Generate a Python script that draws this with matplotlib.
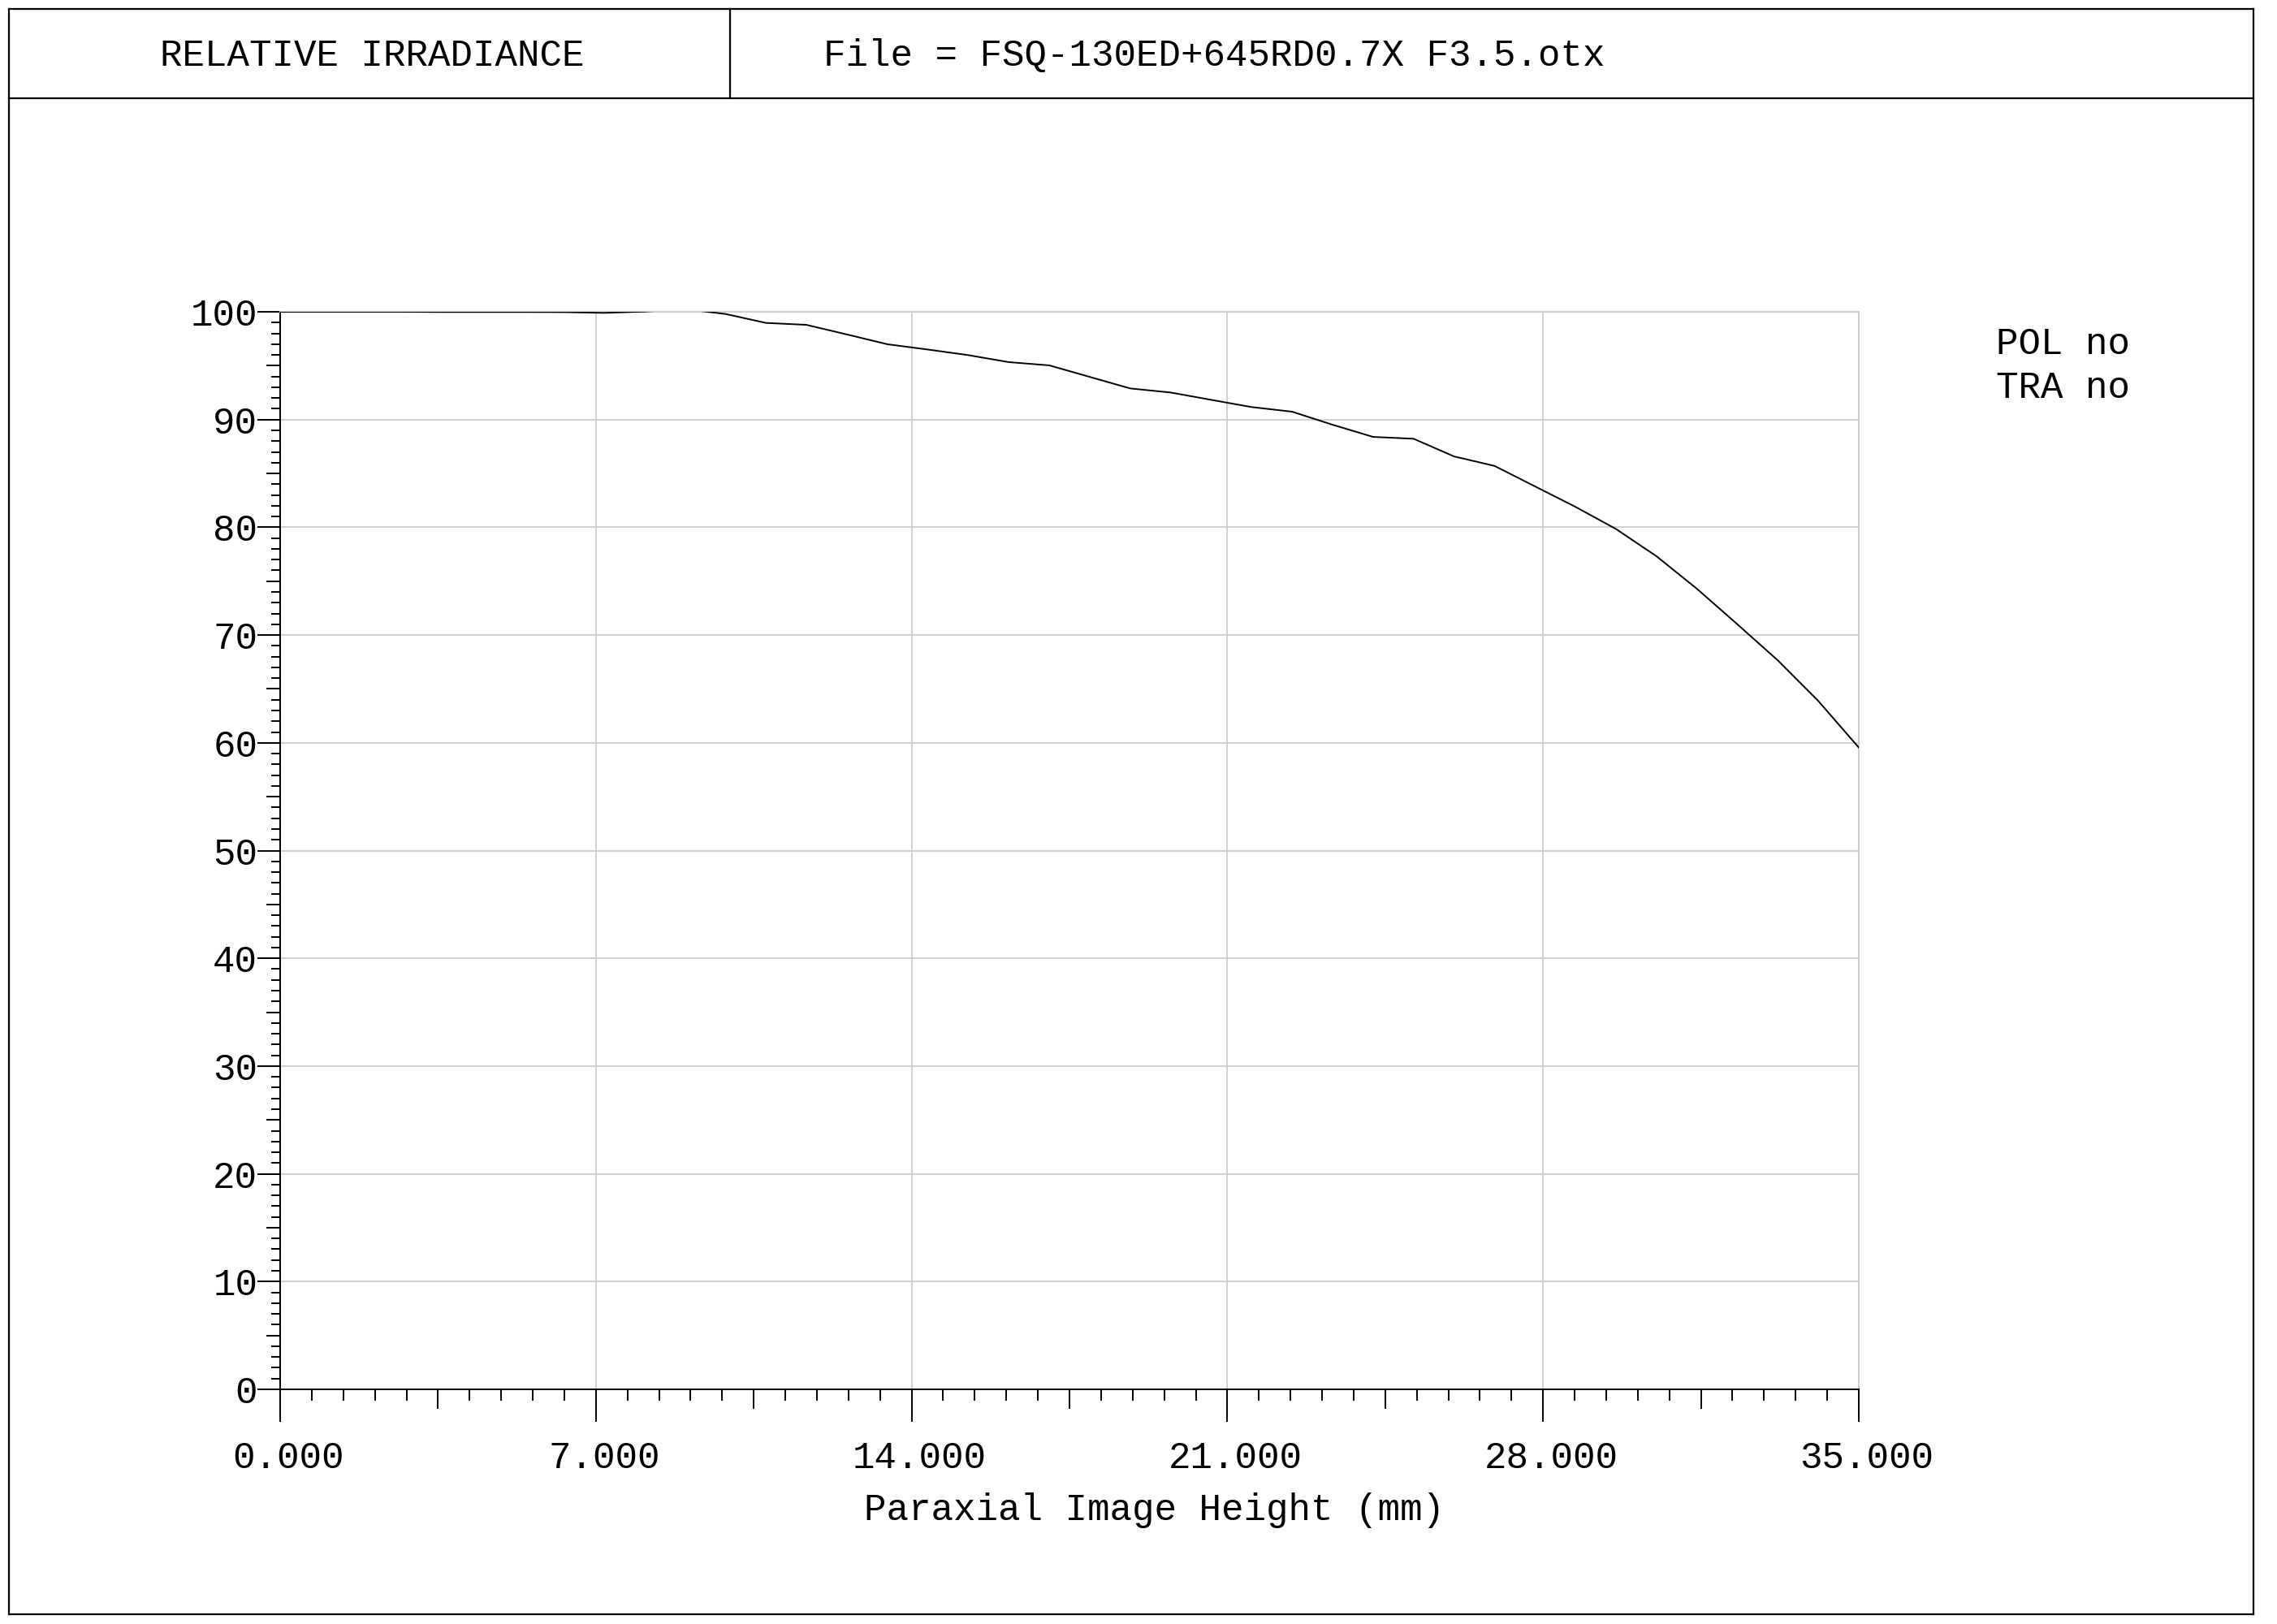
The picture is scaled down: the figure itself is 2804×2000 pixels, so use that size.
import matplotlib
matplotlib.use("Agg")
import matplotlib.pyplot as plt
import matplotlib.transforms as mtransforms
from matplotlib.lines import Line2D

plt.rcParams['font.family'] = ['Liberation Mono', 'DejaVu Sans Mono']

# paraxial image height (mm) and relative irradiance (%)
height_mm = [0.000, 0.897, 1.795, 2.692, 3.590, 4.487, 5.385, 6.282, 7.179, 8.077,
             8.974, 9.872, 10.769, 11.667, 12.564, 13.462, 14.359, 15.256, 16.154, 17.051,
             17.949, 18.846, 19.744, 20.641, 21.538, 22.436, 23.333, 24.231, 25.128, 26.026,
             26.923, 27.821, 28.718, 29.615, 30.513, 31.410, 32.308, 33.205, 34.103, 35.000]
irradiance = [100.0, 100.0, 100.0, 100.0, 99.98, 99.98, 99.98, 99.97, 99.90, 100.02,
              100.25, 99.80, 98.97, 98.79, 97.90, 96.99, 96.50, 95.98, 95.33, 95.03,
              93.96, 92.89, 92.51, 91.83, 91.16, 90.73, 89.52, 88.39, 88.22, 86.58,
              85.70, 83.80, 81.90, 79.85, 77.32, 74.30, 71.00, 67.65, 63.88, 59.56]

x_ticks = [0, 7, 14, 21, 28, 35]
x_ticklabels = ['0.000', '7.000', '14.000', '21.000', '28.000', '35.000']
y_ticks = [0, 10, 20, 30, 40, 50, 60, 70, 80, 90, 100]

title_left = 'RELATIVE IRRADIANCE'
title_right = 'File = FSQ-130ED+645RD0.7X F3.5.otx'
x_label = 'Paraxial Image Height (mm)'
notes = ['POL no', 'TRA no']

W, H = 2804, 2000
fig = plt.figure(figsize=(W / 100, H / 100), dpi=100)
fs = 33

def fx(px):
    return px / W

def fy(py):
    return 1 - py / H

# frame and header boxes
lw_frame = 1.6
for xs, ys in [([11, 2775], [11, 11]), ([11, 2775], [1988, 1988]),
               ([11, 11], [11, 1988]), ([2775, 2775], [11, 1988]),
               ([11, 2775], [121, 121]), ([899, 899], [11, 121])]:
    fig.add_artist(Line2D([fx(v) for v in xs], [fy(v) for v in ys],
                          transform=fig.transFigure, color='black', lw=lw_frame))

fig.text(fx(458), fy(69), title_left, fontsize=fs, ha='center', va='center')
fig.text(fx(1014), fy(69), title_right, fontsize=fs, ha='left', va='center')

ax = fig.add_axes([fx(345), fy(1711), fx(2289 - 345), (1711 - 384) / H])
ax.plot(height_mm, irradiance, color='black', lw=1.4, zorder=3)

ax.set_xlim(0, 35)
ax.set_ylim(0, 100)
ax.set_xticks(x_ticks)
ax.set_xticklabels(x_ticklabels)
ax.set_yticks(y_ticks)
ax.set_xticks([i * 0.7 for i in range(51) if i % 5 != 0], minor=True)
ax.set_yticks([i for i in range(101) if i % 5 != 0], minor=True)

ax.grid(True, which='major', color='#cccccc', lw=1.3)
ax.set_axisbelow(True)
for s in ['top', 'right']:
    ax.spines[s].set_color('#cccccc')
    ax.spines[s].set_linewidth(1.3)
for s in ['left', 'bottom']:
    ax.spines[s].set_linewidth(1.4)

ax.tick_params(axis='x', which='major', direction='out', length=29, width=1.4,
               pad=16, labelsize=fs)
ax.tick_params(axis='x', which='minor', direction='out', length=10, width=1.4)
ax.tick_params(axis='y', which='major', direction='out', length=20, width=1.4,
               pad=0, labelsize=fs)
ax.tick_params(axis='y', which='minor', direction='out', length=8, width=1.4)

# x labels sit a little right of their ticks in the original
shift = mtransforms.ScaledTranslation(0.1, 0, fig.dpi_scale_trans)
for lab in ax.get_xticklabels():
    lab.set_transform(lab.get_transform() + shift)

# half-way ticks (a bit longer than the minor ones)
sx = ax.secondary_xaxis(0)
sx.set_xticks([3.5 + 7 * i for i in range(5)])
sx.tick_params(direction='out', length=17.5, width=1.4, labelbottom=False)
sx.spines['bottom'].set_visible(False)
sy = ax.secondary_yaxis(0)
sy.set_yticks([5 + 10 * i for i in range(10)])
sy.tick_params(direction='out', length=12, width=1.4, labelleft=False)
sy.spines['left'].set_visible(False)

fig.text(fx(1422), fy(1860), x_label, fontsize=fs, ha='center', va='center')
fig.text(fx(2458), fy(424), notes[0], fontsize=fs, ha='left', va='center')
fig.text(fx(2458), fy(478), notes[1], fontsize=fs, ha='left', va='center')

fig.savefig('out.png', dpi=100, facecolor='white')
